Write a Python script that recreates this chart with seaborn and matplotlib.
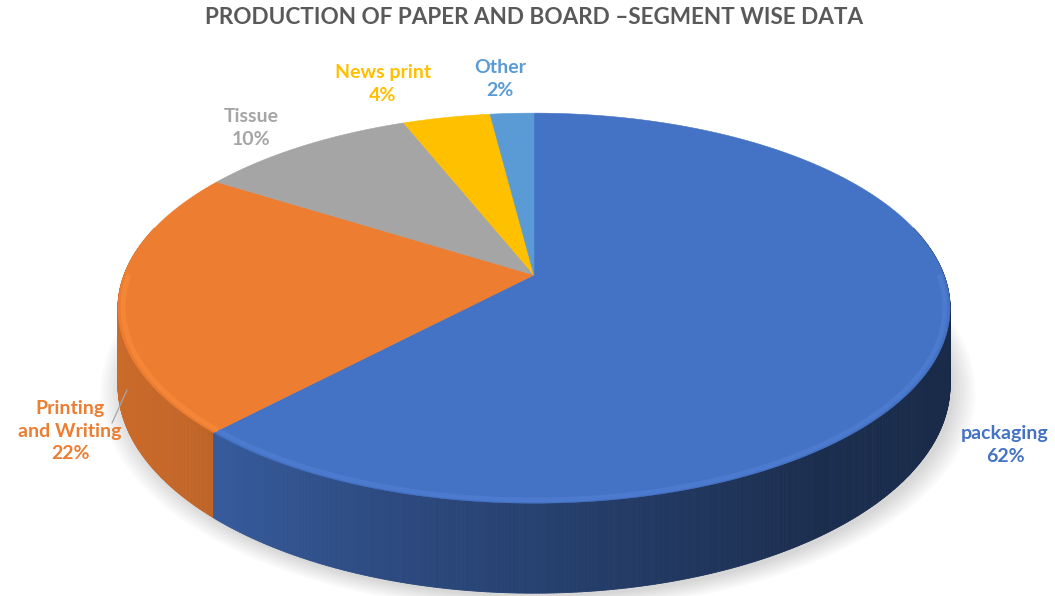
import numpy as np
import matplotlib
matplotlib.use("Agg")
import matplotlib.pyplot as plt
import seaborn as sns
from matplotlib.collections import PolyCollection
from matplotlib.patches import Polygon
from matplotlib.colors import to_rgb

# ---- data ----
categories = ["packaging", "Printing\nand Writing", "Tissue", "News print", "Other"]
values = [62, 22, 10, 4, 2]
colors = ["#4472C4", "#ED7D31", "#A5A5A5", "#FFC000", "#5B9BD5"]
title = "PRODUCTION OF PAPER AND BOARD \u2013SEGMENT WISE DATA"

sns.set_theme(style="white")
plt.rcParams['font.family'] = ['Lato', 'DejaVu Sans']

W, H = 1055, 596
fig = plt.figure(figsize=(W / 100, H / 100), dpi=100)
ax = fig.add_axes([0, 0, 1, 1])

# ---- perspective layout (pixels) ----
CX, CY0 = 534, 308
K, A, B, C = 0.17, 410.0, 195.0, 33.0
TH0 = 90 * (1 - K)


def proj(u, v):
    d = 1 + K * v
    return CX + A * u / d, CY0 - (B * v + C) / d


def thick(v):
    return TH0 / (1 + K * v)


# pie geometry from the library (unit circle), then projected
wedges, _ = ax.pie(values, colors=colors, startangle=90, counterclock=False,
                   radius=1, wedgeprops=dict(linewidth=0))
geo = []
for w in wedges:
    geo.append((w.theta1, w.theta2, w.center, w.r))
    w.remove()

ax.set_aspect('auto')
ax.set_xlim(0, W)
ax.set_ylim(H, 0)
ax.axis('off')

# soft shadow under the pie
ts = np.linspace(0, 2 * np.pi, 400)
for e in np.linspace(0.0, 0.05, 8):
    u, v = (1 + e) * np.cos(ts), (1 + e) * np.sin(ts)
    x, y = proj(u, v)
    y = y + thick(np.sin(ts)) + 4
    ax.add_patch(Polygon(np.column_stack([x + 4, y]), closed=True,
                         facecolor='black', alpha=0.02, lw=0, zorder=0))

# side walls
xs_ref = [-1.0, -0.74, -0.32, 0.6, 1.0]
fs_ref = [0.86, 0.82, 0.66, 0.40, 0.37]
strips = []
for (t1, t2, _, _), base in zip(geo, colors):
    rgb = np.array(to_rgb(base))
    for kk in range(-2, 3):
        lo = max(t1, 165 + 360 * kk)
        hi = min(t2, 375 + 360 * kk)
        if hi <= lo:
            continue
        ang = np.radians(np.linspace(lo, hi, max(int((hi - lo) * 3), 2)))
        for a0, a1 in zip(ang[:-1], ang[1:]):
            u0, v0, u1, v1 = np.cos(a0), np.sin(a0), np.cos(a1), np.sin(a1)
            x0, y0 = proj(u0, v0)
            x1, y1 = proj(u1, v1)
            quad = [(x0, y0), (x1, y1), (x1, y1 + thick(v1)), (x0, y0 + thick(v0))]
            f = np.interp((u0 + u1) / 2, xs_ref, fs_ref)
            strips.append(((v0 + v1) / 2, quad, tuple(np.clip(rgb * f, 0, 1))))
strips.sort(key=lambda s: -s[0])
pc = PolyCollection([s[1] for s in strips], facecolors=[s[2] for s in strips],
                    edgecolors=[s[2] for s in strips], linewidths=0.6, zorder=2)
ax.add_collection(pc)

# top face
for (t1, t2, cen, r), base in zip(geo, colors):
    ang = np.radians(np.linspace(t1, t2, max(int((t2 - t1) * 4), 8)))
    u = np.concatenate([[cen[0]], cen[0] + r * np.cos(ang)])
    v = np.concatenate([[cen[1]], cen[1] + r * np.sin(ang)])
    x, y = proj(u, v)
    ax.add_patch(Polygon(np.column_stack([x, y]), closed=True,
                         facecolor=base, edgecolor=base, lw=0.4, zorder=3))
    # bevel highlight along the front rim
    rgb = np.array(to_rgb(base))
    for kk in range(-2, 3):
        lo = max(t1, 180 + 360 * kk)
        hi = min(t2, 360 + 360 * kk)
        if hi <= lo:
            continue
        ang = np.radians(np.linspace(lo, hi, 300))
        x, y = proj(0.988 * np.cos(ang), 0.988 * np.sin(ang))
        ax.plot(x, y, color=tuple(np.clip(rgb * 1.05 + 0.05, 0, 1)), lw=3.5,
                alpha=0.45, zorder=4, solid_capstyle='butt')

# title
ax.text(CX, 18, title, ha='center', va='center', fontsize=16.2,
        fontweight='bold', color='#595959')

# labels
label_pos = {
    "packaging": (1005, 445),
    "Printing\nand Writing": (70, 431),
    "Tissue": (251, 128),
    "News print": (383, 84),
    "Other": (500, 79),
}
for cat, val, col in zip(categories, values, colors):
    px, py = label_pos[cat]
    ax.text(px, py, f"{cat}\n{val}%", ha='center', va='center',
            fontsize=14, fontweight='bold', color=col, linespacing=1.4)

# leader line for Printing and Writing
ax.plot([127, 112], [390, 423], color='#A6A6A6', lw=0.9, zorder=5)

fig.savefig("out.png", dpi=100)
